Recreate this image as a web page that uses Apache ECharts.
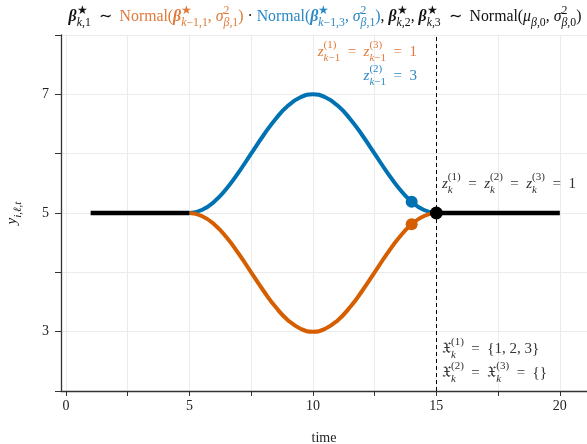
<!DOCTYPE html>
<html><head><meta charset="utf-8">
<script src="https://cdn.jsdelivr.net/npm/echarts@6/dist/echarts.min.js"></script>
<style>html,body{margin:0;padding:0;background:#fff}#c{width:587px;height:444px}</style>
</head><body><div id="c"></div>
<script>
// ---- data ----
const curveTime = [5, 5.5, 6, 6.5, 7, 7.5, 8, 8.5, 9, 9.5, 10, 10.5, 11, 11.5, 12, 12.5, 13, 13.5, 14, 14.5, 15];
const blueValues = [5, 5.05, 5.19, 5.41, 5.69, 6.0, 6.31, 6.59, 6.81, 6.95, 7.0, 6.95, 6.81, 6.59, 6.31, 6.0, 5.69, 5.41, 5.19, 5.05, 5.0];
const orangeValues = [5, 4.95, 4.81, 4.59, 4.31, 4.0, 3.69, 3.41, 3.19, 3.05, 3.0, 3.05, 3.19, 3.41, 3.69, 4.0, 4.31, 4.59, 4.81, 4.95, 5.0];
const blackLeftTime = [1, 5];
const blackLeftValues = [5, 5];
const blackRightTime = [15, 20];
const blackRightValues = [5, 5];
const blueDot = [14, 5.19];
const orangeDot = [14, 4.81];
const blackDot = [15, 5];
const changeTime = 15;
const xTicks = [0, 2.5, 5, 7.5, 10, 12.5, 15, 17.5, 20];
const xTickLabels = [0, 5, 10, 15, 20];
const yTickLabels = [3, 5, 7];

// ---- styles ----
const BLUE = '#0072B2', ORANGE = '#D55E00';
const BLUE_T = '#2A88C4', ORANGE_T = '#E07A3A', GRAY_T = '#333333';
const FONT = 'Liberation Serif';
function mk(prefix, color, size, small) {
  const base = {color: color, fill: color, fontFamily: FONT, fontSize: size, lineHeight: 24, align: 'left'};
  const sup = {color: color, fill: color, fontFamily: FONT, fontSize: small, lineHeight: 13, verticalAlign: 'top', align: 'left'};
  const sub = {color: color, fill: color, fontFamily: FONT, fontSize: small, lineHeight: 13, verticalAlign: 'bottom', align: 'left'};
  const r = {};
  r[prefix + 'n'] = base;
  r[prefix + 'i'] = Object.assign({}, base, {fontStyle: 'italic'});
  r[prefix + 'b'] = Object.assign({}, base, {fontStyle: 'italic', fontWeight: 'bold'});
  r[prefix + 'p'] = sup;
  r[prefix + 'p0'] = Object.assign({}, sup, {width: 0.01});
  r[prefix + 's'] = sub;
  r[prefix + 'si'] = Object.assign({}, sub, {fontStyle: 'italic'});
  r[prefix + 'si0'] = Object.assign({}, sub, {fontStyle: 'italic', width: 0.01});
  return r;
}
const rich = Object.assign({}, mk('k', '#111111', 15, 11), mk('o', ORANGE_T, 15, 11), mk('b', BLUE_T, 15, 11), mk('g', GRAY_T, 15, 11),
  mk('K', '#111111', 15.8, 11.8), mk('O', ORANGE_T, 15.8, 11.8), mk('B', BLUE_T, 15.8, 11.8));

const EQ = '\u2002=\u2002';
const SIM = '\u2002∼\u2002';
const titleText =
  '{Kb|β}{Kp0|★}{Ksi|k}{Ks|,1}{Kn|' + SIM + '}' +
  '{On|Normal(}{Ob|β}{Op0|★}{Osi|k}{Os|−1,1}{On|, }{Oi|σ}{Op0|2}{Osi|β}{Os|,1}{On|)}' +
  '{Kn| · }' +
  '{Bn|Normal(}{Bb|β}{Bp0|★}{Bsi|k}{Bs|−1,3}{Bn|, }{Bi|σ}{Bp0|2}{Bsi|β}{Bs|,1}{Bn|)}' +
  '{Kn|, }{Kb|β}{Kp0|★}{Ksi|k}{Ks|,2}{Kn|, }{Kb|β}{Kp0|★}{Ksi|k}{Ks|,3}' +
  '{Kn|' + SIM + 'Normal(}{Ki|μ}{Ksi|β}{Ks|,0}{Kn|, }{Ki|σ}{Kp0|2}{Ksi|β}{Ks|,0}{Kn|)}';
const ann1 = '{oi|z}{op0|(1)}{osi|k}{os|−1}{on|' + EQ + '}{oi|z}{op0|(3)}{osi|k}{os|−1}{on|' + EQ + '1}';
const ann2 = '{bi|z}{bp0|(2)}{bsi|k}{bs|−1}{bn|' + EQ + '3}';
const ann3 = '{gi|z}{gsi0|k}{gp|(1)}{gn|' + EQ + '}{gi|z}{gsi0|k}{gp|(2)}{gn|' + EQ + '}{gi|z}{gsi0|k}{gp|(3)}{gn|' + EQ + '1}';
const ann4 = '{gn|𝔛}{gsi0|k}{gp|(1)}{gn|' + EQ + '}{1, 2, 3}';
const ann5 = '{gn|𝔛}{gsi0|k}{gp|(2)}{gn|' + EQ + '𝔛}{gsi0|k}{gp|(3)}{gn|' + EQ + '}{}';

function txt(text, x, y, align) {
  return {type: 'text', x: x, y: y, z: 100,
    style: {text: text, rich: rich, fill: GRAY_T, fontFamily: FONT, fontSize: 15, lineHeight: 24,
      align: align, verticalAlign: 'middle'}};
}

const zip = (a, b) => a.map((v, i) => [v, b[i]]);
const chart = echarts.init(document.getElementById('c'), null, {renderer: 'canvas'});
chart.setOption({
  animation: false,
  backgroundColor: '#fff',
  grid: {left: 61, right: 0, top: 35, bottom: 53, containLabel: false, outerBoundsMode: 'none'},
  xAxis: {
    type: 'value', min: -0.2, max: 21.1,
    name: 'time', nameLocation: 'middle', nameGap: 40,
    nameTextStyle: {fontFamily: FONT, fontSize: 14, color: '#222'},
    axisLine: {onZero: false, lineStyle: {color: '#333', width: 1.3}},
    axisTick: {length: 5, customValues: xTicks, lineStyle: {color: '#333', width: 1}},
    axisLabel: {fontFamily: FONT, fontSize: 14, color: '#222', margin: 8, customValues: xTickLabels},
    splitLine: {show: true, customValues: xTicks, lineStyle: {color: '#ebebeb', width: 1}}
  },
  yAxis: {
    type: 'value', min: 2, max: 8, interval: 1,
    name: '{ki|y}{ksi|i,ℓ,t}', nameLocation: 'middle', nameGap: 37,
    nameTextStyle: {rich: rich, fontFamily: FONT, fontSize: 14, color: '#222'},
    axisLine: {onZero: false, lineStyle: {color: '#333', width: 1.3}},
    axisTick: {length: 6, lineStyle: {color: '#333', width: 1}},
    axisLabel: {fontFamily: FONT, fontSize: 14, color: '#222', margin: 12,
      formatter: v => yTickLabels.indexOf(v) >= 0 ? String(v) : ''},
    splitLine: {show: true, lineStyle: {color: '#ebebeb', width: 1}}
  },
  series: [
    {type: 'line', data: zip(curveTime, blueValues), smooth: true, showSymbol: false,
      lineStyle: {color: BLUE, width: 4}, z: 2},
    {type: 'line', data: zip(curveTime, orangeValues), smooth: true, showSymbol: false,
      lineStyle: {color: ORANGE, width: 4}, z: 3},
    {type: 'line', data: zip(blackLeftTime, blackLeftValues), showSymbol: false,
      lineStyle: {color: '#000', width: 4.5}, z: 4},
    {type: 'line', data: zip(blackRightTime, blackRightValues), showSymbol: false,
      lineStyle: {color: '#000', width: 4.5}, z: 4,
      markLine: {silent: true, symbol: ['none', 'none'], label: {show: false},
        lineStyle: {color: '#000', width: 1, type: [4, 3]},
        data: [{xAxis: changeTime}]}},
    {type: 'scatter', data: [blueDot], symbolSize: 12, itemStyle: {color: BLUE, opacity: 1}, z: 5},
    {type: 'scatter', data: [orangeDot], symbolSize: 12, itemStyle: {color: ORANGE, opacity: 1}, z: 5},
    {type: 'scatter', data: [blackDot], symbolSize: 13, itemStyle: {color: '#000', opacity: 1}, z: 6}
  ],
  graphic: [
    txt(titleText, 325, 17, 'center'),
    txt(ann1, 417, 52, 'right'),
    txt(ann2, 417, 76, 'right'),
    txt(ann3, 442, 184, 'left'),
    txt(ann4, 442, 349, 'left'),
    txt(ann5, 442, 373, 'left')
  ]
});
</script>
</body></html>
